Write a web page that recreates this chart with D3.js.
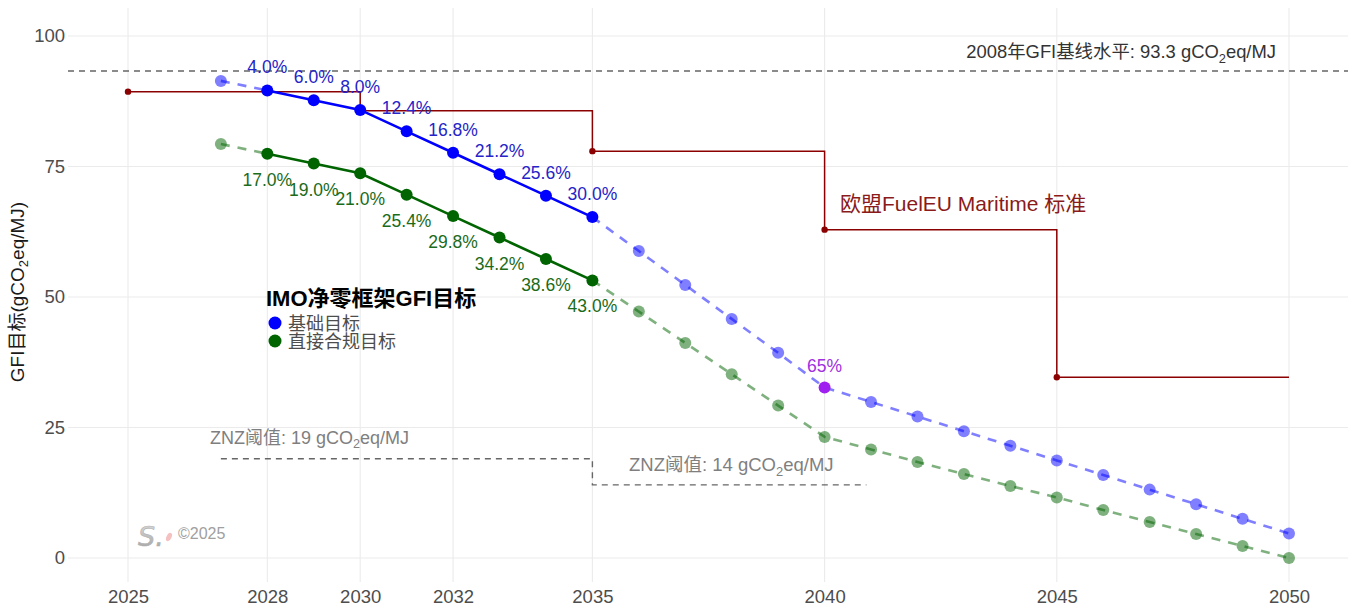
<!DOCTYPE html>
<html>
<head>
<meta charset="utf-8">
<script src="https://cdn.jsdelivr.net/npm/d3@7"></script>
<style>
  html, body { margin: 0; padding: 0; background: #fff; }
  svg { display: block; font-family: "Liberation Sans", Arial, "Noto Sans CJK SC", sans-serif; }
</style>
</head>
<body>
<svg id="chart" width="1354" height="608"></svg>
<script>
// ---- data ----
const baseline2008 = 93.3;                       // gCO2eq/MJ
const xTicks = [2025, 2028, 2030, 2032, 2035, 2040, 2045, 2050];
const yTicks = [0, 25, 50, 75, 100];

// IMO net-zero framework, 2028–2035 (reduction vs 2008 baseline, %)
const imoYears = [2028, 2029, 2030, 2031, 2032, 2033, 2034, 2035];
const baseReduction = [4.0, 6.0, 8.0, 12.4, 16.8, 21.2, 25.6, 30.0];
const directReduction = [17.0, 19.0, 21.0, 25.4, 29.8, 34.2, 38.6, 43.0];

// indicative values before 2028
const preYear = 2027;
const basePre = 91.4;
const directPre = 79.3;

// projected trajectories 2035–2050
const projYears = [2035, 2036, 2037, 2038, 2039, 2040, 2041, 2042, 2043, 2044, 2045, 2046, 2047, 2048, 2049, 2050];
const baseProj = [65.31, 58.8, 52.3, 45.8, 39.3, 32.66, 29.9, 27.1, 24.3, 21.5, 18.7, 15.9, 13.1, 10.3, 7.5, 4.7];
const directProj = [53.18, 47.2, 41.2, 35.2, 29.2, 23.2, 20.8, 18.4, 16.1, 13.8, 11.6, 9.2, 6.9, 4.6, 2.3, 0.0];

// 2040 milestone
const milestoneYear = 2040;
const milestoneReduction = 65;

// EU FuelEU Maritime limits (step after each year)
const euYears = [2025, 2030, 2035, 2040, 2045];
const euValues = [89.34, 85.69, 77.94, 62.90, 34.64];
const euEnd = 2050;

// ZNZ thresholds
const znzYears = [2027, 2035, 2040.9];
const znzValues = [19, 14];

// ---- layout ----
const svg = d3.select("#chart");
const panel = { left: 68, right: 1348, top: 8, bottom: 582 };
const x = d3.scaleLinear().domain([2025, 2050]).range([128, 1289]);
const y = d3.scaleLinear().domain([0, 100]).range([558, 36]);
const gfi = r => baseline2008 * (1 - r / 100);

const BLUE = "#0000ff", GREEN = "#006400", DARKRED = "#8b0000", PURPLE = "#a020f0";

// grid
const grid = svg.append("g");
grid.selectAll("line.h").data(yTicks).join("line")
  .attr("x1", panel.left).attr("x2", panel.right)
  .attr("y1", d => y(d)).attr("y2", d => y(d))
  .attr("stroke", "#ebebeb").attr("stroke-width", 1.1);
grid.selectAll("line.v").data(xTicks).join("line")
  .attr("x1", d => x(d)).attr("x2", d => x(d))
  .attr("y1", panel.top).attr("y2", panel.bottom)
  .attr("stroke", "#ebebeb").attr("stroke-width", 1.1);

// axes (labels only)
const yAxis = svg.append("g").attr("transform", `translate(${panel.left},0)`)
  .call(d3.axisLeft(y).tickValues(yTicks).tickSize(0).tickPadding(3));
const xAxis = svg.append("g").attr("transform", `translate(0,${panel.bottom})`)
  .call(d3.axisBottom(x).tickValues(xTicks).tickFormat(d3.format("d")).tickSize(0).tickPadding(8));
[yAxis, xAxis].forEach(a => {
  a.select(".domain").remove();
  a.selectAll("text").attr("fill", "#4d4d4d").attr("font-size", 18.5)
    .attr("font-family", "Liberation Sans, Arial, sans-serif");
});

// y-axis title with subscript
const yTitle = svg.append("text")
  .attr("transform", `translate(24,292) rotate(-90)`)
  .attr("text-anchor", "middle").attr("font-size", 19).attr("fill", "#1a1a1a");
yTitle.append("tspan").text("GFI目标(gCO");
yTitle.append("tspan").attr("font-size", 13).attr("dy", 4).text("2");
yTitle.append("tspan").attr("dy", -4).text("eq/MJ)");

// helper for text with CO2 subscript
function co2Text(sel, pre, post, size) {
  sel.append("tspan").text(pre);
  sel.append("tspan").attr("font-size", size * 0.7).attr("dy", size * 0.25).text("2");
  sel.append("tspan").attr("dy", -size * 0.25).text(post);
}

// 2008 baseline
svg.append("line")
  .attr("x1", panel.left).attr("x2", panel.right)
  .attr("y1", y(baseline2008)).attr("y2", y(baseline2008))
  .attr("stroke", "#666").attr("stroke-width", 1.4).attr("stroke-dasharray", "6,5");
co2Text(svg.append("text").attr("x", 1276).attr("y", y(baseline2008) - 13)
  .attr("text-anchor", "end").attr("font-size", 18.4).attr("fill", "#333"),
  "2008年GFI基线水平: 93.3 gCO", "eq/MJ", 18.4);

// ZNZ threshold step
const znzPath = [[znzYears[0], znzValues[0]], [znzYears[1], znzValues[0]], [znzYears[1], znzValues[1]], [znzYears[2], znzValues[1]]];
svg.append("path")
  .attr("d", d3.line().x(d => x(d[0])).y(d => y(d[1]))(znzPath))
  .attr("fill", "none").attr("stroke", "#666").attr("stroke-width", 1.4).attr("stroke-dasharray", "6,5");
co2Text(svg.append("text").attr("x", 210).attr("y", y(znzValues[0]) - 15)
  .attr("font-size", 18).attr("fill", "#7f7f7f"), "ZNZ阈值: " + znzValues[0] + " gCO", "eq/MJ", 18);
co2Text(svg.append("text").attr("x", 629).attr("y", y(znzValues[1]) - 14)
  .attr("font-size", 18.5).attr("fill", "#7f7f7f"), "ZNZ阈值: " + znzValues[1] + " gCO", "eq/MJ", 18.5);

// EU FuelEU Maritime step line
const euPts = euYears.map((yr, i) => [yr, euValues[i]]).concat([[euEnd, euValues[euValues.length - 1]]]);
svg.append("path")
  .attr("d", d3.line().curve(d3.curveStepAfter).x(d => x(d[0])).y(d => y(d[1]))(euPts))
  .attr("fill", "none").attr("stroke", DARKRED).attr("stroke-width", 1.5);
svg.selectAll("circle.eu").data(euYears.map((yr, i) => [yr, euValues[i]])).join("circle")
  .attr("cx", d => x(d[0])).attr("cy", d => y(d[1])).attr("r", 3.2).attr("fill", DARKRED);
svg.append("text").attr("x", 840).attr("y", 211).attr("font-size", 21).attr("fill", "#8b1a1a")
  .text("欧盟FuelEU Maritime 标准");

// IMO series
const basePts = imoYears.map((yr, i) => [yr, gfi(baseReduction[i])]);
const directPts = imoYears.map((yr, i) => [yr, gfi(directReduction[i])]);
const baseProjPts = projYears.map((yr, i) => [yr, baseProj[i]]);
const directProjPts = projYears.map((yr, i) => [yr, directProj[i]]);
const line = d3.line().x(d => x(d[0])).y(d => y(d[1]));

function dashed(pts, color) {
  svg.append("path").attr("d", line(pts)).attr("fill", "none")
    .attr("stroke", color).attr("stroke-opacity", 0.5).attr("stroke-width", 2.6)
    .attr("stroke-dasharray", "9,8");
}
dashed([[preYear, basePre], basePts[0]], BLUE);
dashed([[preYear, directPre], directPts[0]], GREEN);
dashed(baseProjPts, BLUE);
dashed(directProjPts, GREEN);

svg.append("path").attr("d", line(basePts)).attr("fill", "none").attr("stroke", BLUE).attr("stroke-width", 2.6);
svg.append("path").attr("d", line(directPts)).attr("fill", "none").attr("stroke", GREEN).attr("stroke-width", 2.6);

// faded points (indicative / projected)
const fadedBase = [[preYear, basePre]].concat(baseProjPts.filter(d => d[0] > 2035 && d[0] !== milestoneYear));
const fadedDirect = [[preYear, directPre]].concat(directProjPts.filter(d => d[0] > 2035));
svg.selectAll("circle.fb").data(fadedBase).join("circle")
  .attr("cx", d => x(d[0])).attr("cy", d => y(d[1])).attr("r", 6).attr("fill", BLUE).attr("fill-opacity", 0.5);
svg.selectAll("circle.fd").data(fadedDirect).join("circle")
  .attr("cx", d => x(d[0])).attr("cy", d => y(d[1])).attr("r", 6).attr("fill", GREEN).attr("fill-opacity", 0.5);

// solid points
svg.selectAll("circle.b").data(basePts).join("circle")
  .attr("cx", d => x(d[0])).attr("cy", d => y(d[1])).attr("r", 6).attr("fill", BLUE);
svg.selectAll("circle.d").data(directPts).join("circle")
  .attr("cx", d => x(d[0])).attr("cy", d => y(d[1])).attr("r", 6).attr("fill", GREEN);

// percentage labels
svg.selectAll("text.bl").data(basePts).join("text")
  .attr("x", d => x(d[0])).attr("y", d => y(d[1]) - 17)
  .attr("text-anchor", "middle").attr("font-size", 17.5).attr("fill", "#2424c8")
  .text((d, i) => baseReduction[i].toFixed(1) + "%");
svg.selectAll("text.dl").data(directPts).join("text")
  .attr("x", d => x(d[0])).attr("y", d => y(d[1]) + 32)
  .attr("text-anchor", "middle").attr("font-size", 17.5).attr("fill", "#1a6b1a")
  .text((d, i) => directReduction[i].toFixed(1) + "%");

// 2040 milestone
const mVal = gfi(milestoneReduction);
svg.append("circle").attr("cx", x(milestoneYear)).attr("cy", y(mVal)).attr("r", 6).attr("fill", PURPLE);
svg.append("text").attr("x", x(milestoneYear)).attr("y", y(mVal) - 16)
  .attr("text-anchor", "middle").attr("font-size", 17.5).attr("fill", "#a030e0")
  .text(milestoneReduction + "%");

// legend
const lg = svg.append("g");
lg.append("text").attr("x", 266).attr("y", 306).attr("font-size", 22).attr("font-weight", "bold")
  .attr("fill", "#000").text("IMO净零框架GFI目标");
[["基础目标", BLUE], ["直接合规目标", GREEN]].forEach(([label, c], i) => {
  lg.append("circle").attr("cx", 275).attr("cy", 323 + i * 18).attr("r", 6.5).attr("fill", c);
  lg.append("text").attr("x", 288).attr("y", 329.5 + i * 18).attr("font-size", 18).attr("fill", "#4d4d4d").text(label);
});

// signature mark
const sig = svg.append("g");
const grad = svg.append("defs").append("linearGradient").attr("id", "sigGrad")
  .attr("x1", "0").attr("y1", "0").attr("x2", "0").attr("y2", "1");
grad.append("stop").attr("offset", "0").attr("stop-color", "#dedede");
grad.append("stop").attr("offset", "1").attr("stop-color", "#a0a0a0");
sig.append("text").attr("x", 138).attr("y", 546).attr("font-size", 27).attr("font-style", "italic")
  .attr("fill", "url(#sigGrad)").attr("stroke", "#b0b0b0").attr("stroke-width", 0.6)
  .attr("font-family", "DejaVu Sans, sans-serif").text("S.");
sig.append("ellipse").attr("cx", 169).attr("cy", 537).attr("rx", 2.5).attr("ry", 4.5)
  .attr("transform", "rotate(25,169,537)").attr("fill", "#f4c0c0");
sig.append("text").attr("x", 178).attr("y", 539).attr("font-size", 16).attr("fill", "#a0a0a0").text("©2025");
</script>
</body>
</html>
